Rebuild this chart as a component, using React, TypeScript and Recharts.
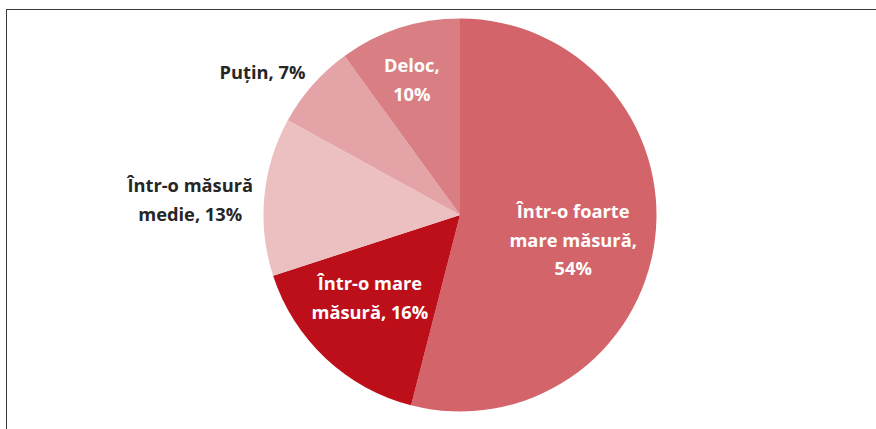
import React from "react";
import { PieChart, Pie, Cell } from "recharts";

const categories = [
  ["Într-o foarte", "mare măsură,", "54%"],
  ["Într-o mare", "măsură, 16%"],
  ["Într-o măsură", "medie, 13%"],
  ["Puțin, 7%"],
  ["Deloc,", "10%"],
];
const names = ["Într-o foarte mare măsură", "Într-o mare măsură", "Într-o măsură medie", "Puțin", "Deloc"];
const values = [54, 16, 13, 7, 10];

const colors = ["#D3646A", "#BD0F1A", "#ECBFC1", "#E4A3A6", "#D97F83"];
const textColors = ["#FFFFFF", "#FFFFFF", "#262626", "#262626", "#FFFFFF"];
// [radius factor, angle shift in degrees]
const labelPlacement: [number, number][] = [
  [0.59, -5.3],
  [0.624, -4.1],
  [1.375, 2.2],
  [1.239, 5.6],
  [0.731, 1.6],
];

const data = names.map((n, i) => ({ name: n, value: values[i] }));
const RAD = Math.PI / 180;
const FONT = 18.3;
const LH = 28.5;

const renderLabel = (props: any) => {
  const { cx, cy, midAngle, outerRadius, index } = props;
  const [k, shift] = labelPlacement[index];
  const a = (midAngle + shift) * RAD;
  const r = outerRadius * k;
  const x = cx + r * Math.cos(-a);
  const y = cy + r * Math.sin(-a);
  const lines = categories[index];
  const first = y - ((lines.length - 1) / 2) * LH + FONT * 0.36;
  return (
    <text
      key={`l-${index}`}
      x={x}
      y={first}
      textAnchor="middle"
      fill={textColors[index]}
      style={{ fontFamily: "'Open Sans', Lato, sans-serif", fontWeight: 700, fontSize: FONT }}
    >
      {lines.map((t, j) => (
        <tspan key={j} x={x} y={first + j * LH}>
          {t}
        </tspan>
      ))}
    </text>
  );
};

export default function App() {
  return (
    <div style={{ position: "absolute", left: 0, top: 0, width: 876, height: 429, overflow: "hidden", background: "#fff" }}>
      <div
        style={{
          position: "absolute",
          left: 6,
          top: 9,
          width: 960,
          height: 600,
          borderLeft: "1.5px solid #3a3a3a",
          borderTop: "1.5px solid #3a3a3a",
        }}
      />
      <div style={{ position: "absolute", left: 0, top: 0 }}>
        <PieChart width={876} height={429} margin={{ top: 0, right: 0, bottom: 0, left: 0 }}>
          <Pie
            data={data}
            dataKey="value"
            nameKey="name"
            cx={460}
            cy={215}
            outerRadius={196.5}
            startAngle={90}
            endAngle={-270}
            stroke="none"
            labelLine={false}
            label={renderLabel}
            isAnimationActive={false}
          >
            {data.map((d, i) => (
              <Cell key={d.name} fill={colors[i]} />
            ))}
          </Pie>
        </PieChart>
      </div>
    </div>
  );
}
